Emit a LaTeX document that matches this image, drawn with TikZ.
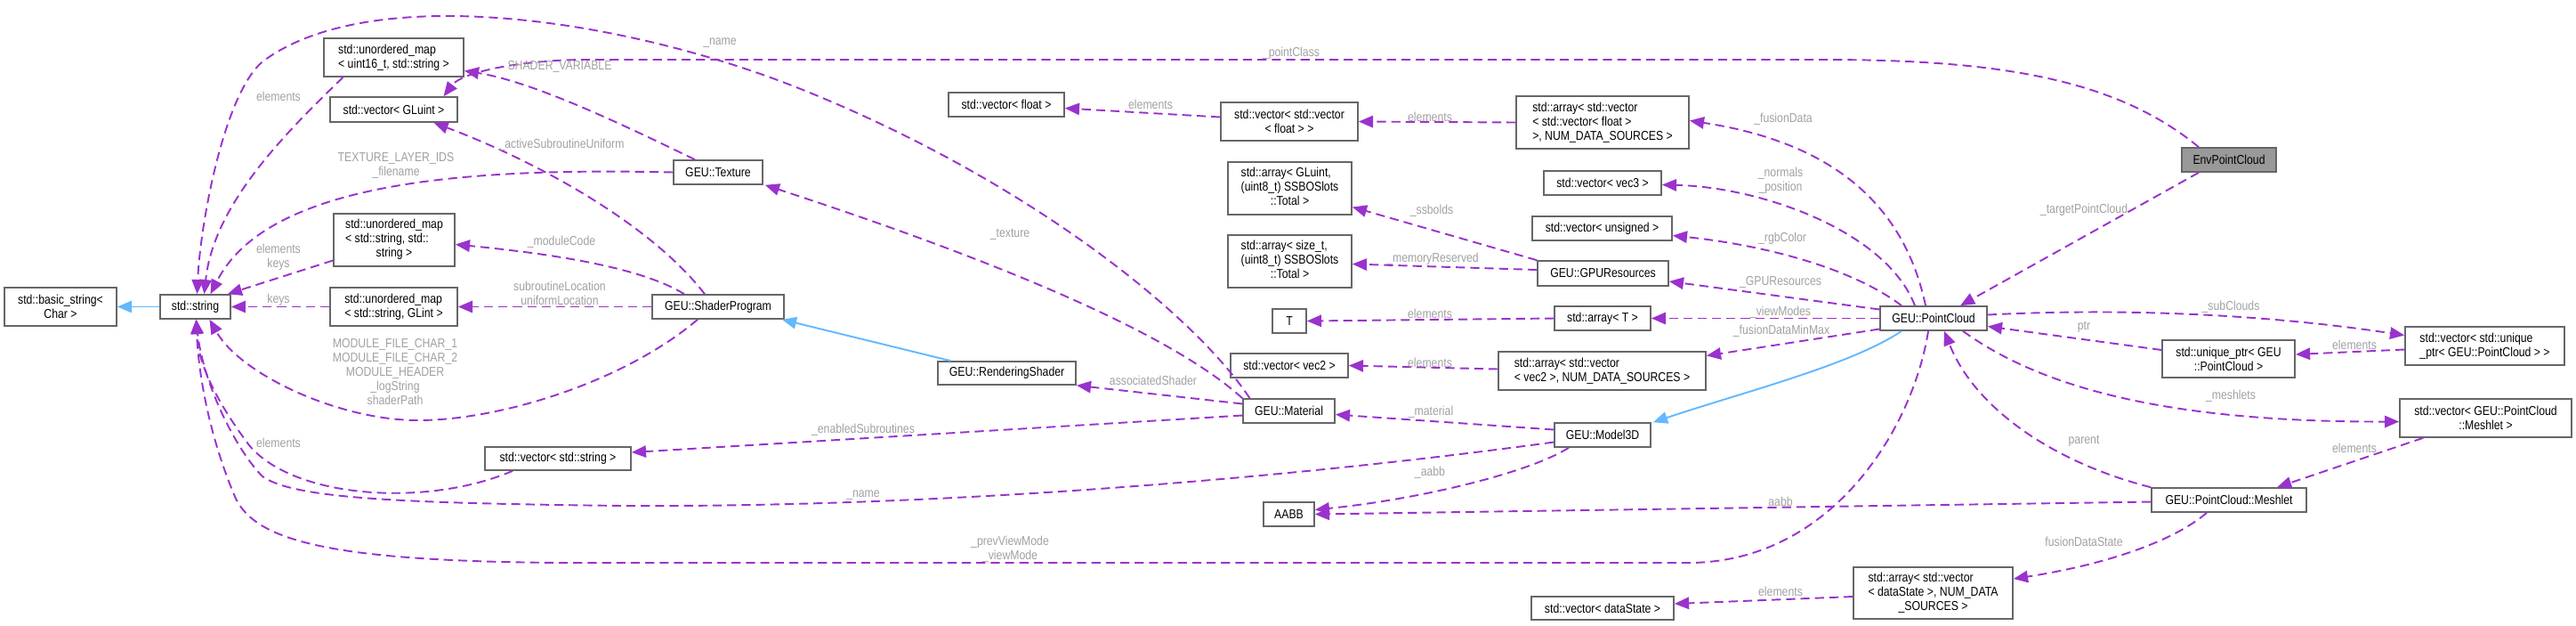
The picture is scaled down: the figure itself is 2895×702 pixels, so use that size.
\documentclass[tikz,border=0pt]{standalone}
\usepackage{fontspec}
\setmainfont{Liberation Sans}[FakeStretch=0.85]
\usetikzlibrary{arrows.meta,calc}
\definecolor{depcol}{HTML}{9A32CD}
\definecolor{inhcol}{HTML}{63B8FF}
\definecolor{boxcol}{HTML}{666666}
\definecolor{lblcol}{HTML}{A0A0A0}
\definecolor{mainfill}{HTML}{999999}
\newcommand{\lastline}[1]{\multicolumn{1}{@{}c@{}}{#1}}
\tikzset{
  cls/.style={draw=boxcol,line width=0.45pt,fill=white,inner sep=0pt,align=center,font=\fontsize{4.1}{4.55}\selectfont},
  clsl/.style={cls,align=left},
  lbl/.style={inner sep=0pt,align=center,text=lblcol,font=\fontsize{4.1}{4.55}\selectfont},
  dep/.style={draw=depcol,line width=0.55pt,dash pattern=on 2.9pt off 1.7pt,-{Triangle[length=4.6pt,width=3.8pt]}},
  inh/.style={draw=inhcol,line width=0.55pt,-{Triangle[length=4.6pt,width=3.8pt]}}
}
\begin{document}
\begin{tikzpicture}[x=0.01cm,y=-0.01cm]
\useasboundingbox (0,0) rectangle (2895,702);

% classes
\node[cls,minimum width=1.26cm,minimum height=0.43cm] (bstr) at (68,344.5) {std::basic\_string<\\Char >};
\node[cls,minimum width=0.79cm,minimum height=0.27cm] (str) at (219.5,344.5) {std::string};
\node[clsl,minimum width=1.57cm,minimum height=0.43cm] (umapu) at (442.5,64.5) {std::unordered\_map\\< uint16\_t, std::string >};
\node[cls,minimum width=1.43cm,minimum height=0.28cm] (vglu) at (442.5,123) {std::vector< GLuint >};
\node[cls,minimum width=1.00cm,minimum height=0.27cm] (tex) at (807,193.5) {GEU::Texture};
\node[cls,minimum width=1.36cm,minimum height=0.59cm] (umapss) at (443,269.5) {\begin{tabular}{@{}l@{}}std::unordered\_map\\< std::string, std::\\\lastline{string >}\end{tabular}};
\node[clsl,minimum width=1.43cm,minimum height=0.43cm] (umapsi) at (442.5,344.5) {std::unordered\_map\\< std::string, GLint >};
\node[cls,minimum width=1.48cm,minimum height=0.27cm] (shp) at (807,344.5) {GEU::ShaderProgram};
\node[cls,minimum width=1.64cm,minimum height=0.26cm] (vstr) at (627,515) {std::vector< std::string >};
\node[cls,minimum width=1.30cm,minimum height=0.27cm] (vflt) at (1131,117.5) {std::vector< float >};
\node[cls,minimum width=1.54cm,minimum height=0.43cm] (vvflt) at (1449,136.5) {std::vector< std::vector\\< float > >};
\node[clsl,minimum width=1.94cm,minimum height=0.59cm] (afus) at (1801,137.5) {std::array< std::vector\\< std::vector< float >\\>, NUM\_DATA\_SOURCES >};
\node[cls,minimum width=1.39cm,minimum height=0.59cm] (assbo) at (1449.5,211.5) {\begin{tabular}{@{}l@{}}std::array< GLuint,\\(uint8\_t) SSBOSlots\\\lastline{::Total >}\end{tabular}};
\node[cls,minimum width=1.39cm,minimum height=0.59cm] (amem) at (1449.5,293.5) {\begin{tabular}{@{}l@{}}std::array< size\_t,\\(uint8\_t) SSBOSlots\\\lastline{::Total >}\end{tabular}};
\node[cls,minimum width=1.32cm,minimum height=0.27cm] (vvec3) at (1801,205.5) {std::vector< vec3 >};
\node[cls,minimum width=1.57cm,minimum height=0.27cm] (vuns) at (1800.5,256.5) {std::vector< unsigned >};
\node[cls,minimum width=1.47cm,minimum height=0.28cm] (gpu) at (1801.5,307) {GEU::GPUResources};
\node[cls,minimum width=0.38cm,minimum height=0.27cm] (T) at (1449,360.5) {T};
\node[cls,minimum width=1.08cm,minimum height=0.27cm] (arrT) at (1801,357.5) {std::array< T >};
\node[cls,minimum width=1.32cm,minimum height=0.27cm] (vvec2) at (1449,410.5) {std::vector< vec2 >};
\node[clsl,minimum width=2.33cm,minimum height=0.43cm] (avec2) at (1800.5,416.5) {std::array< std::vector\\< vec2 >, NUM\_DATA\_SOURCES >};
\node[cls,minimum width=1.55cm,minimum height=0.26cm] (rsh) at (1131.5,419) {GEU::RenderingShader};
\node[cls,minimum width=1.03cm,minimum height=0.27cm] (mat) at (1448.5,461.5) {GEU::Material};
\node[cls,minimum width=1.08cm,minimum height=0.27cm] (m3d) at (1801,488.5) {GEU::Model3D};
\node[cls,minimum width=0.57cm,minimum height=0.27cm] (aabb) at (1448.5,577.5) {AABB};
\node[cls,minimum width=1.60cm,minimum height=0.26cm] (vds) at (1801,683) {std::vector< dataState >};
\node[cls,fill=mainfill,minimum width=1.06cm,minimum height=0.27cm] (env) at (2505,179.5) {EnvPointCloud};
\node[cls,minimum width=1.20cm,minimum height=0.27cm] (pc) at (2173,357.5) {GEU::PointCloud};
\node[cls,minimum width=1.49cm,minimum height=0.42cm] (uptr) at (2504.5,403) {std::unique\_ptr< GEU\\::PointCloud >};
\node[clsl,minimum width=1.79cm,minimum height=0.43cm] (vuptr) at (2792.5,388.5) {std::vector< std::unique\\\_ptr< GEU::PointCloud > >};
\node[cls,minimum width=1.93cm,minimum height=0.43cm] (vmesh) at (2793.5,469.5) {std::vector< GEU::PointCloud\\::Meshlet >};
\node[cls,minimum width=1.74cm,minimum height=0.27cm] (mesh) at (2505,561.5) {GEU::PointCloud::Meshlet};
\node[cls,minimum width=1.79cm,minimum height=0.58cm] (ads) at (2172.5,666) {\begin{tabular}{@{}l@{}}std::array< std::vector\\< dataState >, NUM\_DATA\\\lastline{\_SOURCES >}\end{tabular}};

% inheritance
\draw[inh] (str.west) -- (bstr.east);
\draw[inh] ($(rsh.north)+(-63,0)$) -- ($(shp.south east)+(-3,0)$);
\draw[inh] ($(pc.south)+(-36,0)$) .. controls (2080,410) and (1960,440) .. ($(m3d.north east)+(2,0)$);

% members of type std::string
\draw[dep] ($(umapu.south)+(-57,0)$) .. controls (320,150) and (240,230) .. ($(str.north)+(10,0)$);
\draw[dep] ($(mat.north)+(-44,0)$) .. controls (1340,350) and (1150,200) .. (900,100) .. controls (700,20) and (420,-20) .. (298,67) .. controls (253,99) and (225,250) .. ($(str.north)+(2,0)$);
\draw[dep] (tex.west) .. controls (520,188) and (300,205) .. ($(str.north)+(17,0)$);
\draw[dep] ($(umapss.west)+(0,23)$) -- ($(str.north east)+(-4,0)$);
\draw[dep] (umapsi.west) -- (str.east);
\draw[dep] ($(shp.south)+(-23,0)$) .. controls (700,430) and (560,472) .. (470,472) .. controls (380,472) and (270,420) .. ($(str.south)+(16,0)$);
\draw[dep] ($(vstr.south west)+(32,0)$) .. controls (480,570) and (330,560) .. (280,500) .. controls (235,440) and (222,400) .. ($(str.south)+(1,0)$);
\draw[dep] ($(m3d.west)+(0,8)$) .. controls (1500,530) and (1100,570) .. (700,568) .. controls (450,565) and (330,560) .. (295,535) .. controls (265,505) and (228,430) .. ($(str.south)+(1,0)$);
\draw[dep] ($(pc.south)+(-6,0)$) .. controls (2150,480) and (2060,630) .. (1900,632) -- (700,632) .. controls (380,634) and (290,610) .. (265,560) .. controls (235,490) and (223,420) .. ($(str.south)+(1,0)$);

% shader side
\draw[dep] ($(tex.north)+(-26,0)$) .. controls (700,140) and (600,92) .. ($(umapu.east)+(0,15)$);
\draw[dep] ($(env.north)+(-34,0)$) .. controls (2380,90) and (2250,67) .. (2050,67) -- (660,67) .. controls (590,67) and (520,80) .. ($(vglu.north)+(56,0)$);
\draw[dep] ($(shp.north)+(-15,0)$) .. controls (730,250) and (600,180) .. ($(vglu.south)+(45,0)$);
\draw[dep] ($(shp.north)+(-38,0)$) .. controls (720,300) and (620,285) .. ($(umapss.east)+(0,5)$);
\draw[dep] (shp.west) -- (umapsi.east);
\draw[dep] (mat.north west) .. controls (1300,360) and (1050,270) .. ($(tex.south east)+(2,0)$);
\draw[dep] ($(mat.west)+(0,-8)$) -- (rsh.south east);
\draw[dep] ($(mat.west)+(0,5)$) -- ($(vstr.east)+(0,-7)$);
\draw[dep] ($(m3d.west)+(0,-6)$) -- ($(mat.east)+(0,4)$);
\draw[dep] ($(m3d.south)+(-38,0)$) .. controls (1720,530) and (1600,560) .. ($(aabb.east)+(0,-5)$);

% point cloud side
\draw[dep] ($(vvflt.west)+(0,-5)$) -- ($(vflt.east)+(0,4)$);
\draw[dep] (afus.west) -- (vvflt.east);
\draw[dep] ($(pc.north)+(-9,0)$) .. controls (2140,230) and (2060,160) .. ($(afus.east)+(0,-2)$);
\draw[dep] ($(pc.north)+(-21,0)$) .. controls (2120,260) and (1980,210) .. ($(vvec3.east)+(0,2)$);
\draw[dep] ($(pc.north)+(-36,0)$) .. controls (2080,300) and (1980,275) .. ($(vuns.east)+(0,8)$);
\draw[dep] (gpu.north west) -- ($(assbo.east)+(0,21)$);
\draw[dep] ($(gpu.west)+(0,-4)$) -- ($(amem.east)+(0,3)$);
\draw[dep] ($(pc.west)+(0,-10)$) -- ($(gpu.east)+(0,9)$);
\draw[dep] (arrT.west) -- (T.east);
\draw[dep] (pc.west) -- (arrT.east);
\draw[dep] ($(avec2.west)+(0,-2)$) -- (vvec2.east);
\draw[dep] ($(pc.west)+(0,12)$) -- ($(avec2.east)+(0,-17)$);
\draw[dep] ($(env.south)+(-34,0)$) -- ($(pc.north)+(30,0)$);
\draw[dep] ($(pc.east)+(0,-4)$) .. controls (2400,345) and (2560,355) .. ($(vuptr.west)+(0,-12)$);
\draw[dep] ($(uptr.west)+(0,-10)$) -- ($(pc.east)+(0,9)$);
\draw[dep] ($(vuptr.west)+(0,4)$) -- ($(uptr.east)+(0,-5)$);
\draw[dep] ($(pc.south)+(33,0)$) .. controls (2300,440) and (2450,474) .. ($(vmesh.west)+(0,4)$);
\draw[dep] ($(vmesh.south west)+(27,0)$) -- ($(mesh.north)+(54,0)$);
\draw[dep] (mesh.north west) .. controls (2310,520) and (2220,460) .. ($(pc.south)+(12,0)$);
\draw[dep] ($(mesh.west)+(0,2)$) -- (aabb.east);
\draw[dep] ($(mesh.south)+(-25,0)$) .. controls (2440,610) and (2360,635) .. ($(ads.east)+(0,-16)$);
\draw[dep] ($(ads.west)+(0,4)$) -- ($(vds.east)+(0,-5)$);

% labels
\node[lbl] (lname) at (809,48) {\_name};
\node[lbl] (lshader) at (629,75) {SHADER\_VARIABLE};
\node[lbl] (lelemu) at (313,108) {elements};
\node[lbl] (lactive) at (631,163) {\_activeSubroutineUniform};
\node[lbl] (ltexids) at (445,186) {TEXTURE\_LAYER\_IDS\\\_filename};
\node[lbl] (lelemkeys) at (313,289) {elements\\keys};
\node[lbl] (lmodcode) at (631,272) {\_moduleCode};
\node[lbl] (lsubloc) at (629,329) {subroutineLocation\\uniformLocation};
\node[lbl] (lkeys) at (313,337) {keys};
\node[lbl] (lmodfile) at (444,418) {MODULE\_FILE\_CHAR\_1\\MODULE\_FILE\_CHAR\_2\\MODULE\_HEADER\\\_logString\\shaderPath};
\node[lbl] (lelemstr) at (313,497) {elements};
\node[lbl] (lpointclass) at (1451,60) {\_pointClass};
\node[lbl] (lelemf) at (1293,117) {elements};
\node[lbl] (lelemvf) at (1607,131) {elements};
\node[lbl] (lfusion) at (2004,134) {\_fusionData};
\node[lbl] (lssbo) at (1609,237) {\_ssbolds};
\node[lbl] (lmem) at (1610,291) {\_memoryReserved};
\node[lbl] (lelemT) at (1607,352) {elements};
\node[lbl] (lelemv2) at (1607,407) {elements};
\node[lbl] (ltexture) at (1135,263) {\_texture};
\node[lbl] (lassoc) at (1296,427) {associatedShader};
\node[lbl] (lmaterial) at (1608,463) {\_material};
\node[lbl] (lenabled) at (970,483) {\_enabledSubroutines};
\node[lbl] (lname3d) at (970,556) {\_name};
\node[lbl] (laabb3d) at (1607,531) {\_aabb};
\node[lbl] (lviewmode) at (1135,617) {\_prevViewMode\\\_viewMode};
\node[lbl] (lnormals) at (2001,203) {\_normals\\\_position};
\node[lbl] (lrgb) at (2003,268) {\_rgbColor};
\node[lbl] (lgpu) at (2001,317) {\_GPUResources};
\node[lbl] (lviewmodes) at (2001,351) {\_viewModes};
\node[lbl] (lminmax) at (2002,372) {\_fusionDataMinMax};
\node[lbl] (ltarget) at (2342,236) {\_targetPointCloud};
\node[lbl] (lsub) at (2507,345) {\_subClouds};
\node[lbl] (lptr) at (2342,367) {ptr};
\node[lbl] (lelemptr) at (2646,387) {elements};
\node[lbl] (lmeshlets) at (2507,445) {\_meshlets};
\node[lbl] (lparent) at (2342,495) {parent};
\node[lbl] (lelemmesh) at (2646,503) {elements};
\node[lbl] (laabbm) at (2001,563) {aabb};
\node[lbl] (lfds) at (2342,608) {fusionDataState};
\node[lbl] (lelemds) at (2001,664) {elements};
\end{tikzpicture}
\end{document}
